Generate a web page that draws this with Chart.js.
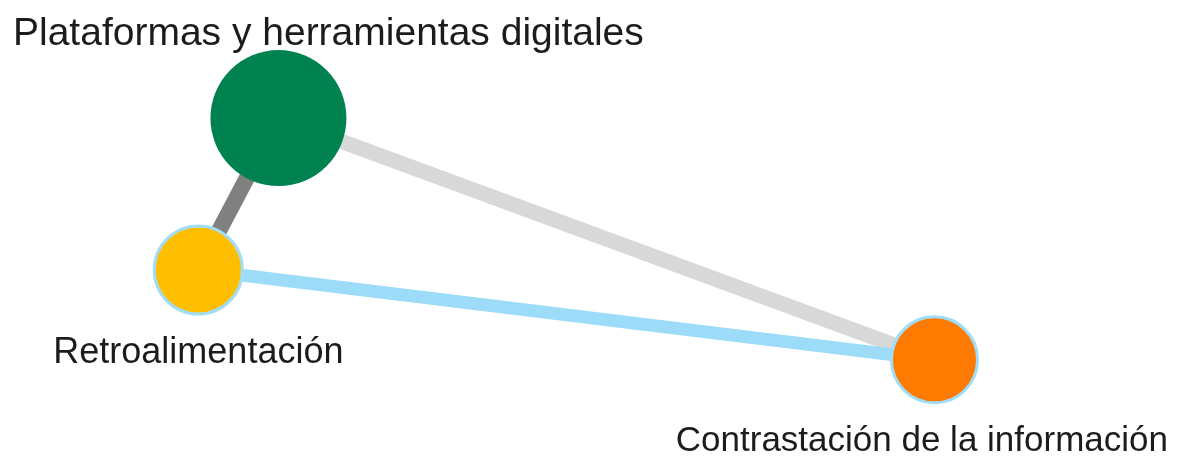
<!DOCTYPE html>
<html>
<head>
<meta charset="utf-8">
<title>Red de categorías</title>
<script src="https://cdn.jsdelivr.net/npm/chart.js@4.4.1/dist/chart.umd.min.js"></script>
<style>
  body { margin: 0; background: #fff; }
  #wrap { width: 1195px; height: 456px; position: relative; }
</style>
</head>
<body>
<div id="wrap"><canvas id="netChart"></canvas></div>
<script>
// node data (layout position in 0-100 units, weight = relative size)
const nodeLabels = ['Plataformas y herramientas digitales', 'Retroalimentación', 'Contrastación de la información'];
const nodeX = [23.3, 16.6, 78.2];
const nodeY = [74.1, 40.8, 21.1];
const nodeWeight = [100, 42, 40];

// edges between nodes (index pairs) and their weights
const edgeFrom = [0, 0, 1];
const edgeTo = [1, 2, 2];
const edgeWeight = [1.0, 0.95, 0.8];

// styles
const nodeColors = ['#008250', '#ffbf00', '#ff7a00'];
const nodeBorder = [0, 3, 3];
const edgeColors = ['#808080', '#d8d8d8', '#9cdcf9'];
const labelFont = [39, 36, 35];
const labelSide = ['above', 'below', 'below'];

const maxRadius = 68;
const maxEdgeWidth = 16;

// node labels plugin
const nodeLabelPlugin = {
  id: 'nodeLabels',
  afterDatasetsDraw(chart) {
    const ctx = chart.ctx;
    const meta = chart.getDatasetMeta(0);
    const W = chart.width;
    ctx.save();
    ctx.fillStyle = '#1c1c1c';
    ctx.textAlign = 'left';
    ctx.textBaseline = 'alphabetic';
    meta.data.forEach((pt, i) => {
      ctx.font = labelFont[i] + 'px "Liberation Sans", Arial, sans-serif';
      const w = ctx.measureText(nodeLabels[i]).width;
      const r = pt.options.radius + nodeBorder[i] / 2;
      let x = pt.x - w / 2;
      x = Math.max(13, Math.min(x, W - 27 - w));
      let y;
      if (labelSide[i] === 'above') {
        y = pt.y - r - 5;
      } else {
        y = pt.y + r + 47;
      }
      ctx.fillText(nodeLabels[i], x, y);
    });
    ctx.restore();
  }
};

// build datasets: nodes first so they sit on top of the edges
const datasets = [];
datasets.push({
  type: 'bubble',
  data: nodeX.map((x, i) => ({ x: x, y: nodeY[i], r: maxRadius * Math.sqrt(nodeWeight[i] / 100) })),
  backgroundColor: nodeColors,
  borderColor: '#a0ddf8',
  borderWidth: nodeBorder,
  hoverBorderWidth: nodeBorder,
  clip: false
});
// blue edge on top of the grey ones
const edgeOrder = [2, 1, 0];
edgeOrder.forEach(e => {
  const a = edgeFrom[e], b = edgeTo[e];
  datasets.push({
    type: 'line',
    data: [{ x: nodeX[a], y: nodeY[a] }, { x: nodeX[b], y: nodeY[b] }],
    borderColor: edgeColors[e],
    borderWidth: maxEdgeWidth * edgeWeight[e],
    borderCapStyle: 'butt',
    pointRadius: 0,
    fill: false,
    clip: false
  });
});

new Chart(document.getElementById('netChart'), {
  type: 'scatter',
  data: { datasets: datasets },
  options: {
    responsive: true,
    maintainAspectRatio: false,
    animation: false,
    layout: { padding: 0, autoPadding: false },
    plugins: {
      legend: { display: false },
      tooltip: { enabled: false }
    },
    scales: {
      x: { type: 'linear', min: 0, max: 100, display: false },
      y: { type: 'linear', min: 0, max: 100, display: false }
    }
  },
  plugins: [nodeLabelPlugin]
});
</script>
</body>
</html>
